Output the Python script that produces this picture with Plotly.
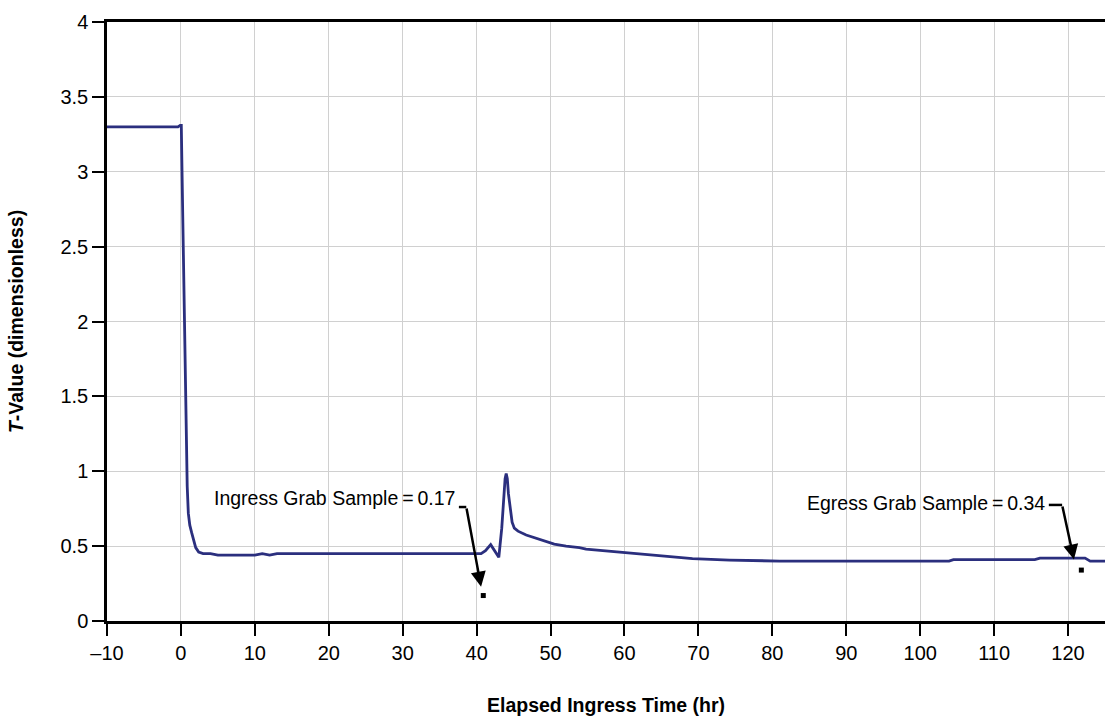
import plotly.graph_objects as go

# Elapsed ingress time (hr) and T-value
time_hr = [-10, -1, -0.4, -0.1, 0.05, 0.15, 0.31, 0.5, 0.68, 0.85, 1.0, 1.2, 1.45, 1.7, 2.0, 2.4,
           3, 4, 5, 10, 11, 12, 13, 40.6, 41.2, 41.9, 42.4, 43.0, 43.4, 43.7, 43.85, 44.0,
           44.15, 44.3, 44.8, 45.1, 45.6, 46.7, 48.5, 50.5, 52.1, 53.9, 54.8, 57, 59.8, 61,
           63.4, 66.1, 69.2, 74.2, 81, 103.9, 104.5, 115.5, 116.2, 122.3, 123, 125]
t_value = [3.30, 3.30, 3.30, 3.31, 3.31, 3.0, 2.5, 1.8, 1.25, 0.9, 0.72, 0.64, 0.59, 0.54, 0.49,
           0.46, 0.45, 0.45, 0.44, 0.44, 0.45, 0.44, 0.45, 0.45, 0.47, 0.51, 0.47, 0.425, 0.62,
           0.85, 0.95, 0.985, 0.95, 0.85, 0.66, 0.62, 0.60, 0.574, 0.546, 0.514, 0.50, 0.49,
           0.48, 0.47, 0.456, 0.45, 0.44, 0.43, 0.416, 0.407, 0.40, 0.40, 0.41, 0.41, 0.42,
           0.42, 0.40, 0.40]

sample_names = ["Ingress Grab Sample", "Egress Grab Sample"]
sample_labels = ["0.17", "0.34"]
sample_time = [40.9, 121.8]
sample_value = [0.17, 0.34]

x_ticks = [-10, 0, 10, 20, 30, 40, 50, 60, 70, 80, 90, 100, 110, 120]
x_ticktext = ["\u201310"] + [str(v) for v in x_ticks[1:]]
y_ticks = [0, 0.5, 1, 1.5, 2, 2.5, 3, 3.5, 4]
y_ticktext = ["0", "0.5", "1", "1.5", "2", "2.5", "3", "3.5", "4"]

FONT = "Liberation Sans, Arial, sans-serif"

fig = go.Figure()
fig.add_trace(go.Scatter(x=time_hr, y=t_value, mode="lines",
                         line=dict(color="#2b2f7e", width=2.8), showlegend=False))
fig.add_trace(go.Scatter(x=sample_time, y=sample_value, mode="markers",
                         marker=dict(symbol="square", size=5, color="black"), showlegend=False))

# annotation leaders: (text x, text y, leg start x, leg end x, leg y, arrow tip x, tip y)
leaders = [
    (37.3, 0.82, 37.6, 38.6, 0.761, 40.6, 0.229),
    (117.1, 0.79, 117.4, 119.2, 0.775, 120.8, 0.41),
]
for name, lab, (tx, ty, lx0, lx1, ly, ax_, ay_) in zip(sample_names, sample_labels, leaders):
    fig.add_annotation(x=tx, y=ty, xref="x", yref="y", text=f"{name}\u2009=\u2009{lab}",
                       showarrow=False, xanchor="right", yanchor="middle",
                       font=dict(family=FONT, size=19.5, color="black"))
    fig.add_shape(type="line", x0=lx0, x1=lx1, y0=ly, y1=ly, xref="x", yref="y",
                  line=dict(color="black", width=2.5))
    fig.add_annotation(x=ax_, y=ay_, ax=lx1, ay=ly, xref="x", yref="y", axref="x", ayref="y",
                       text="", showarrow=True, arrowhead=2, arrowsize=1.2, arrowwidth=2.5,
                       arrowcolor="black")

fig.update_layout(
    width=1105, height=719,
    margin=dict(l=107, r=0, t=22, b=98),
    paper_bgcolor="white", plot_bgcolor="white",
    font=dict(family=FONT, size=20, color="black"),
    xaxis=dict(range=[-10, 125], tickvals=x_ticks, ticktext=x_ticktext,
               showgrid=True, gridcolor="#d0d0d0", gridwidth=1,
               showline=True, linecolor="black", linewidth=2.5, mirror=True,
               ticks="outside", ticklen=12, tickwidth=1.5, tickcolor="black",
               zeroline=False, tickfont=dict(family=FONT, size=20),
               title=dict(text="<b>Elapsed Ingress Time (hr)</b>", standoff=36,
                          font=dict(family=FONT, size=19.5))),
    yaxis=dict(range=[0, 4], tickvals=y_ticks, ticktext=y_ticktext,
               showgrid=True, gridcolor="#d0d0d0", gridwidth=1,
               showline=True, linecolor="black", linewidth=2.5,
               ticks="outside", ticklen=12, tickwidth=1.5, tickcolor="black",
               zeroline=False, tickfont=dict(family=FONT, size=20),
               title=dict(text="<b><i>T</i>-Value (dimensionless)</b>", standoff=32,
                          font=dict(family=FONT, size=19.5))),
)

fig.write_html("out.html")
